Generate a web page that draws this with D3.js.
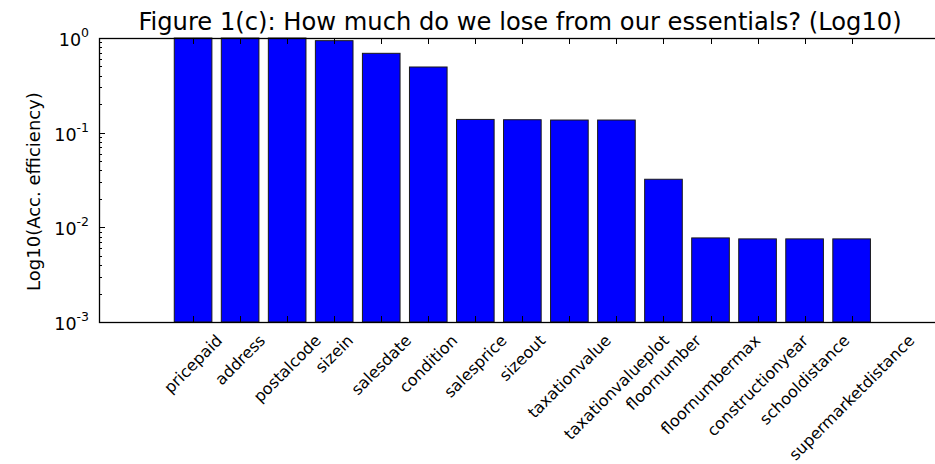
<!DOCTYPE html>
<html>
<head>
<meta charset="utf-8">
<script src="https://cdn.jsdelivr.net/npm/d3@7"></script>
<style>
  html, body { margin: 0; padding: 0; background: #fff; }
  svg { display: block; font-family: "DejaVu Sans", sans-serif; }
</style>
</head>
<body>
<svg id="chart" width="935" height="464"></svg>
<script>
// ---- data ----
const categories = ["pricepaid", "address", "postalcode", "sizein", "salesdate", "condition",
  "salesprice", "sizeout", "taxationvalue", "taxationvalueplot", "floornumber",
  "floornumbermax", "constructionyear", "schooldistance", "supermarketdistance"];
const values = [1.0, 1.0, 1.0, 0.937, 0.689, 0.494, 0.138, 0.137, 0.136, 0.136, 0.0322,
  0.00773, 0.00755, 0.00755, 0.00755];
const yTickValues = [1e-3, 1e-2, 1e-1, 1e0];
const yTickExponents = ["-3", "-2", "-1", "0"];
const titleText = "Figure 1(c): How much do we lose from our essentials? (Log10)";
const yLabelText = "Log10(Acc. efficiency)";

// ---- layout ----
const W = 935, H = 464;
const mLeft = 99, mRight = 941, mTop = 38, mBottom = 322;
const xDomain = [-2, 15.9];
const barWidth = 0.8;

const svg = d3.select("#chart");

const x = d3.scaleLinear().domain(xDomain).range([mLeft, mRight]);
const y = d3.scaleLog().domain([1e-3, 1]).range([mBottom, mTop]);

// bars
svg.append("g").selectAll("rect")
  .data(values)
  .join("rect")
  .attr("x", (d, i) => x(i - barWidth / 2))
  .attr("width", x(barWidth) - x(0))
  .attr("y", d => y(d))
  .attr("height", d => mBottom - y(d))
  .attr("fill", "#0000ff")
  .attr("stroke", "#1a1a1a")
  .attr("stroke-width", 1);

// ticks
const ticksG = svg.append("g").attr("stroke", "#000").attr("stroke-width", 1);
const idx = d3.range(categories.length);
ticksG.append("g").selectAll("line").data(idx).join("line")
  .attr("x1", i => Math.round(x(i)) + 0.5).attr("x2", i => Math.round(x(i)) + 0.5)
  .attr("y1", mBottom).attr("y2", mBottom - 6);
ticksG.append("g").selectAll("line").data(idx).join("line")
  .attr("x1", i => Math.round(x(i)) + 0.5).attr("x2", i => Math.round(x(i)) + 0.5)
  .attr("y1", mTop).attr("y2", mTop + 6);

const minor = [];
for (let e = -3; e < 0; e++) for (let m = 2; m <= 9; m++) minor.push(m * Math.pow(10, e));
[mLeft, mRight].forEach((sx, k) => {
  const dir = k === 0 ? 1 : -1;
  ticksG.append("g").selectAll("line").data(yTickValues).join("line")
    .attr("x1", sx).attr("x2", sx + dir * 6)
    .attr("y1", d => Math.round(y(d)) + 0.5).attr("y2", d => Math.round(y(d)) + 0.5);
  ticksG.append("g").selectAll("line").data(minor).join("line")
    .attr("x1", sx).attr("x2", sx + dir * 3)
    .attr("y1", d => Math.round(y(d)) + 0.5).attr("y2", d => Math.round(y(d)) + 0.5);
});

// frame
svg.append("rect")
  .attr("x", mLeft + 0.5).attr("y", mTop + 0.5)
  .attr("width", mRight - mLeft).attr("height", mBottom - mTop)
  .attr("fill", "none").attr("stroke", "#000").attr("stroke-width", 1.3);

// y tick labels
const ytl = svg.append("g").attr("font-size", 17.5).attr("fill", "#000");
yTickValues.forEach((v, i) => {
  const t = ytl.append("text")
    .attr("x", mLeft - 10)
    .attr("y", y(v) + 8)
    .attr("text-anchor", "end");
  t.append("tspan").text("10");
  t.append("tspan").attr("font-size", 12.5).attr("dy", -9).text(yTickExponents[i]);
});

// x tick labels (rotated 45, centered on tick, top-aligned)
const xFont = 16;
const xl = svg.append("g").attr("font-size", xFont).attr("fill", "#000");
categories.forEach((c, i) => {
  const t = xl.append("text")
    .attr("text-anchor", "middle")
    .attr("dominant-baseline", "central")
    .text(c);
  const L = t.node().getComputedTextLength();
  const half = (L + xFont * 1.0) * Math.SQRT1_2 / 2;
  t.attr("transform", `translate(${x(i)},${mBottom + 10 + half}) rotate(-45)`);
});

// title
svg.append("text")
  .attr("x", (mLeft + mRight) / 2)
  .attr("y", 29.5)
  .attr("text-anchor", "middle")
  .attr("font-size", 24.2)
  .attr("fill", "#000")
  .text(titleText);

// y label
svg.append("text")
  .attr("transform", `translate(40,191.5) rotate(-90)`)
  .attr("text-anchor", "middle")
  .attr("font-size", 18)
  .attr("fill", "#000")
  .text(yLabelText);
</script>
</body>
</html>
